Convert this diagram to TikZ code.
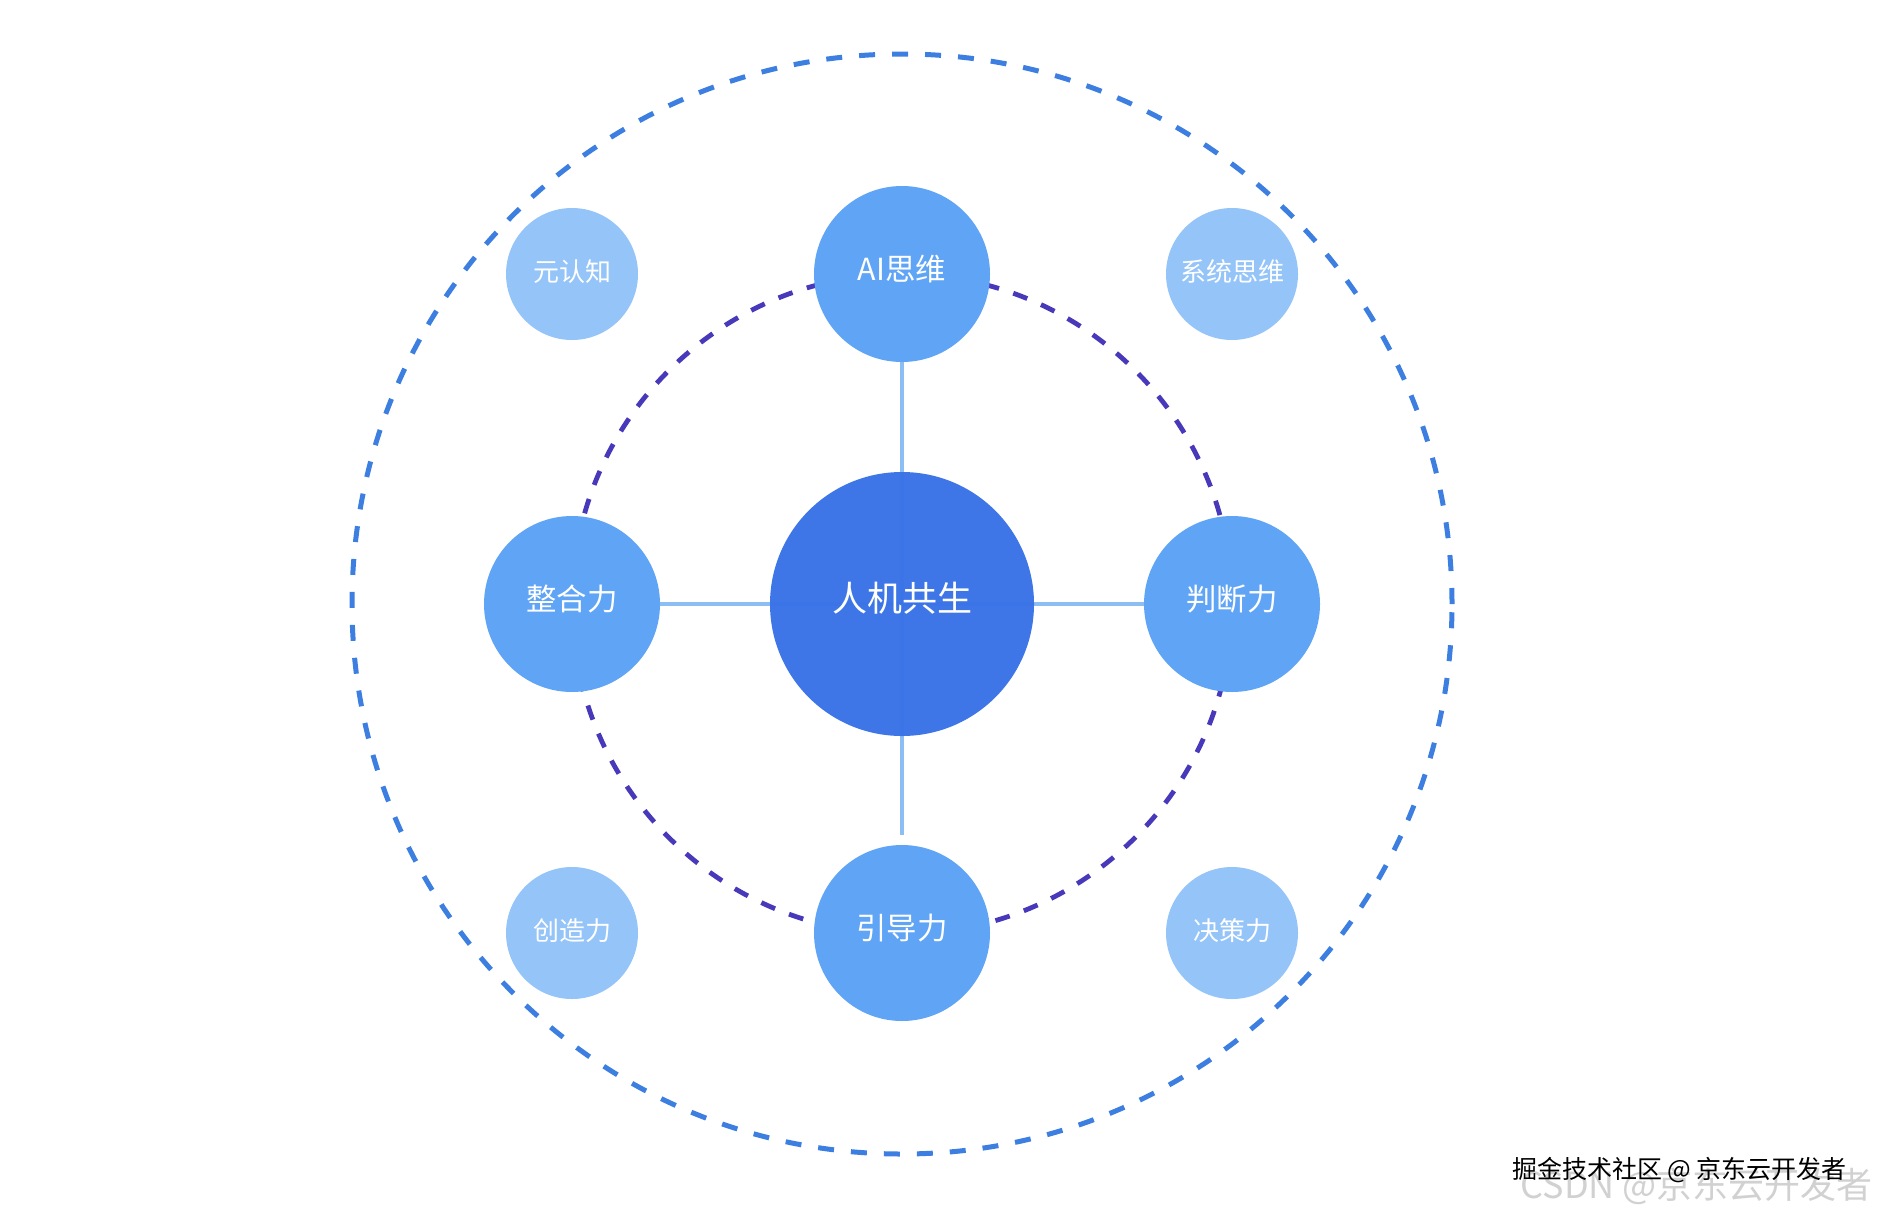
\documentclass[tikz,border=0pt]{standalone}
\usepackage{fontspec}
\newfontfamily\cjk{Noto Sans CJK SC}
\definecolor{cmain}{HTML}{3872E6}
\definecolor{cmid}{HTML}{60A4F5}
\definecolor{csmall}{HTML}{94C4F8}
\definecolor{clink}{HTML}{8CBDF3}
\definecolor{couter}{HTML}{3D7FE0}
\definecolor{cinner}{HTML}{4838BA}
\tikzset{
  core/.style={circle,fill=cmain,minimum size=132pt,inner sep=0pt},
  midc/.style={circle,fill=cmid,minimum size=88pt,inner sep=0pt},
  smallc/.style={circle,fill=csmall,minimum size=66pt,inner sep=0pt},
  corelbl/.style={text=white,font=\cjk\fontsize{17.5}{20}\selectfont,yshift=3pt},
  midlbl/.style={text=white,font=\cjk\fontsize{15.2}{18}\selectfont,yshift=2.5pt},
  smalllbl/.style={text=white,font=\cjk\fontsize{13}{15}\selectfont,yshift=1pt},
  link/.style={draw=clink,line width=2pt},
  outerring/.style={draw=couter,line width=2.5pt,dash pattern=on 8pt off 8.5pt},
  innerring/.style={draw=cinner,line width=2.4pt,dash pattern=on 7.5pt off 7.5pt}
}
\begin{document}
\begin{tikzpicture}[x=0.5pt,y=-0.5pt]
\useasboundingbox (0,0) rectangle (1878,1216);
\coordinate (o) at (902,604);
\draw[outerring] (o) circle[radius=275pt];
\draw[innerring] (o) circle[radius=165pt];
\node[midc,label={[midlbl]center:AI思维}] (ai) at (902,274) {};
\node[midc,label={[midlbl]center:整合力}] (zh) at (572,604) {};
\node[midc,label={[midlbl]center:判断力}] (pd) at (1232,604) {};
\node[midc,label={[midlbl]center:引导力}] (yd) at (902,933) {};
\node[smallc,label={[smalllbl]center:元认知}] (yr) at (572,274) {};
\node[smallc,label={[smalllbl]center:系统思维}] (xt) at (1232,274) {};
\node[smallc,label={[smalllbl]center:创造力}] (cz) at (572,933) {};
\node[smallc,label={[smalllbl]center:决策力}] (jc) at (1232,933) {};
\draw[link] (o) -- (ai);
\draw[link] (o) -- (zh);
\draw[link] (o) -- (pd);
\draw[link] (o) -- ([yshift=5pt]yd.north);
\node[core,fill opacity=0.97,label={[corelbl]center:人机共生}] (c) at (o) {};
\node[font=\cjk\fontsize{18}{20}\selectfont,text=black!18,anchor=east] (wm2) at (1880,1186) {CSDN @京东云开发者};
\node[font=\cjk\fontsize{12.5}{14}\selectfont,text=black,anchor=east] (wm1) at (1854,1170) {掘金技术社区 @ 京东云开发者};
\end{tikzpicture}
\end{document}
